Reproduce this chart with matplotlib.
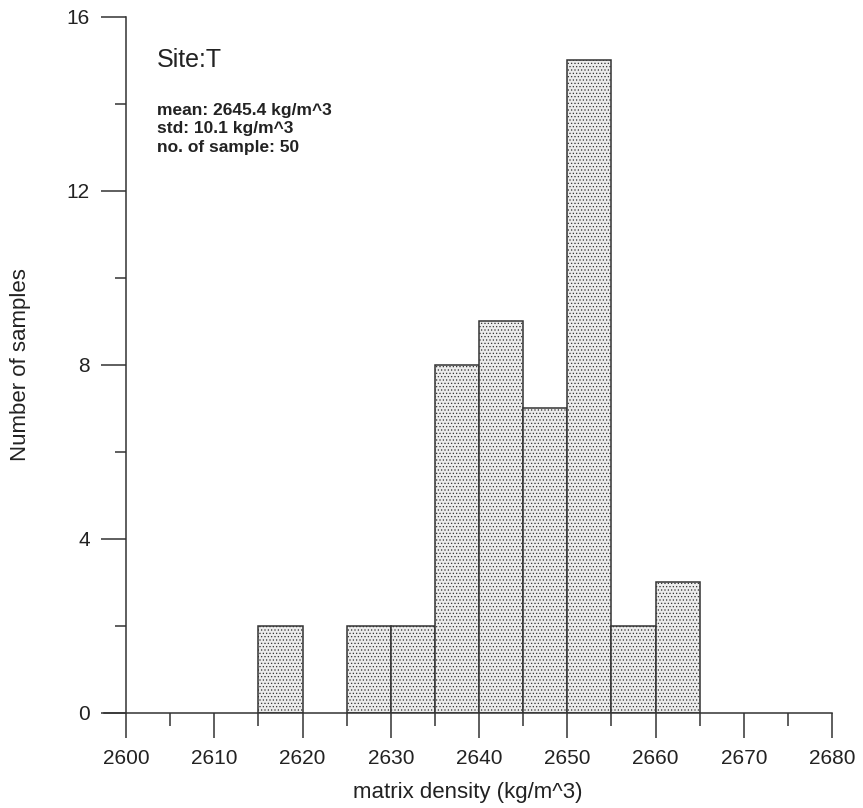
import matplotlib
matplotlib.use("Agg")
import matplotlib.pyplot as plt
import numpy as np

# bin edges every 5 kg/m^3 and the sample counts in each bin
bin_edges = np.arange(2600, 2685, 5)
counts = [0, 0, 0, 2, 0, 2, 2, 8, 9, 7, 15, 2, 3, 0, 0, 0]

site = "Site:T"
stats_lines = ["mean: 2645.4 kg/m^3", "std: 10.1 kg/m^3", "no. of sample: 50"]

plt.rcParams['font.family'] = ['Liberation Sans', 'DejaVu Sans']
plt.rcParams['hatch.color'] = '#b4b4b4'
plt.rcParams['hatch.linewidth'] = 0.5

fig = plt.figure(figsize=(8.63, 8.08), dpi=100)
ax = fig.add_axes([0.1205, 0.118, 0.8436, 0.861])

left = bin_edges[:-1]
h = np.array(counts)
keep = h > 0
ax.bar(left[keep], h[keep], width=5, align='edge', facecolor='#ececec',
       edgecolor='#333333', linewidth=1.1, hatch='.....')

ax.set_xlim(2597.5, 2680)
ax.set_ylim(0, 16)

ax.spines['top'].set_visible(False)
ax.spines['right'].set_visible(False)
ax.spines['left'].set_position(('data', 2600))
for s in ('left', 'bottom'):
    ax.spines[s].set_color('#333333')
    ax.spines[s].set_linewidth(1.1)

ax.set_xticks(np.arange(2600, 2681, 10))
ax.set_xticks(np.arange(2605, 2680, 10), minor=True)
ax.set_yticks([0, 4, 8, 12, 16])
ax.set_yticks([2, 6, 10, 14], minor=True)

ax.tick_params(axis='x', which='major', direction='out', length=18, width=1.1,
               pad=8, labelsize=15, colors='#333333', labelcolor='#222222')
ax.tick_params(axis='x', which='minor', direction='out', length=9, width=1.1,
               colors='#333333')
ax.tick_params(axis='y', which='major', direction='out', length=18, width=1.1,
               pad=8, labelsize=15, colors='#333333', labelcolor='#222222')
ax.tick_params(axis='y', which='minor', direction='out', length=8, width=1.1,
               colors='#333333')

ax.set_xlabel('matrix density (kg/m^3)', fontsize=16, color='#222222', labelpad=10)
ax.set_ylabel('Number of samples', fontsize=16, color='#222222', labelpad=26)

ax.text(0.073, 0.938, site, transform=ax.transAxes, fontsize=18,
        color='#222222', va='center')
ax.text(0.073, 0.877, "\n".join(stats_lines), transform=ax.transAxes,
        fontsize=12.5, fontweight='bold', color='#222222', va='top',
        linespacing=1.3)

fig.savefig('out.png', dpi=100)
